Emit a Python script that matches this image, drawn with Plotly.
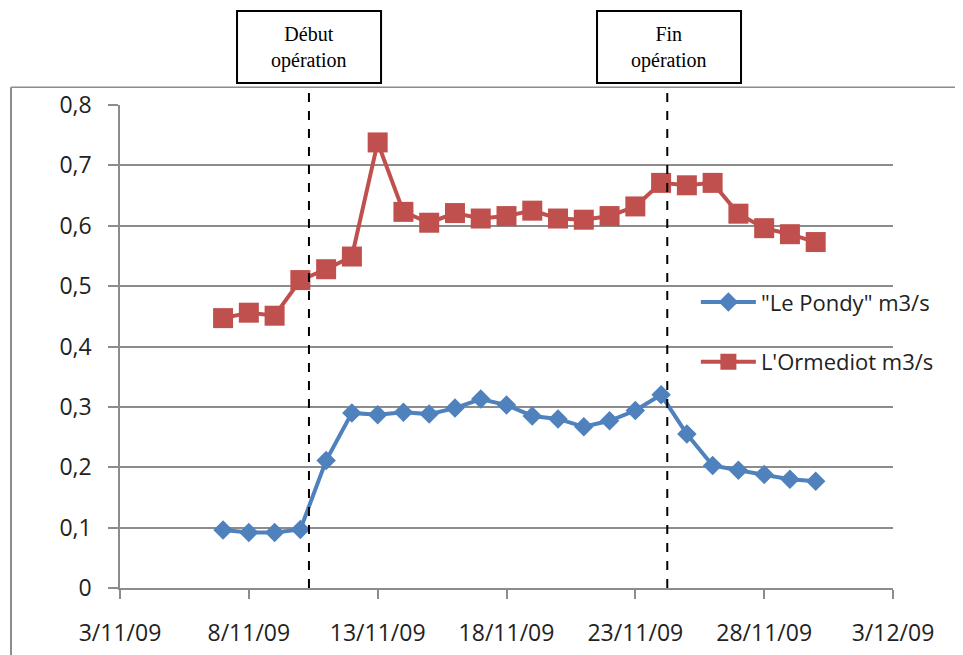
import plotly.graph_objects as go

dates = ["2009-11-%02d" % d for d in range(7, 31)]
pondy = [0.096, 0.092, 0.092, 0.097, 0.211, 0.290, 0.287, 0.291, 0.288, 0.298, 0.313, 0.303,
         0.285, 0.280, 0.267, 0.277, 0.294, 0.320, 0.255, 0.203, 0.195, 0.188, 0.180, 0.177]
ormediot = [0.447, 0.456, 0.451, 0.510, 0.528, 0.549, 0.738, 0.623, 0.605, 0.621, 0.612, 0.616,
            0.625, 0.612, 0.610, 0.616, 0.632, 0.671, 0.667, 0.671, 0.620, 0.596, 0.586, 0.573]
tick_dates = ["2009-11-03", "2009-11-08", "2009-11-13", "2009-11-18", "2009-11-23", "2009-11-28", "2009-12-03"]
tick_labels = ["3/11/09", "8/11/09", "13/11/09", "18/11/09", "23/11/09", "28/11/09", "3/12/09"]
y_ticks = [0, 0.1, 0.2, 0.3, 0.4, 0.5, 0.6, 0.7, 0.8]
events = ["2009-11-10 08:00", "2009-11-24 05:45"]
event_labels = ["Début<br>opération", "Fin<br>opération"]

fig = go.Figure()
fig.add_trace(go.Scatter(
    x=dates, y=pondy, name='"Le Pondy" m3/s', mode="lines+markers",
    line=dict(color="#4F81BD", width=4),
    marker=dict(symbol="diamond", size=15, color="#4F81BD"),
    legendgroup="a"))
fig.add_trace(go.Scatter(
    x=dates, y=ormediot, name="L'Ormediot m3/s", mode="lines+markers",
    line=dict(color="#C0504D", width=4),
    marker=dict(symbol="square", size=20, color="#C0504D"),
    legendgroup="b"))

grid = "#8c8c8c"
fig.update_layout(
    width=963, height=655,
    margin=dict(l=112, r=78, t=97, b=75, autoexpand=False),
    paper_bgcolor="white", plot_bgcolor="white",
    separators=", ",
    font=dict(family="Open Sans", size=17, color="#222"),
    showlegend=True,
    legend=dict(x=0.745, y=0.635, xanchor="left", yanchor="top",
                bgcolor="rgba(0,0,0,0)", traceorder="grouped", tracegroupgap=28,
                font=dict(family="Open Sans", size=22, color="#222"),
                itemwidth=55),
    xaxis=dict(type="date", range=["2009-11-03", "2009-12-03"],
               tickvals=tick_dates, ticktext=tick_labels,
               showgrid=False, showline=True, linecolor=grid, linewidth=1.5,
               ticks="outside", ticklen=9, tickcolor=grid, tickwidth=1.5,
               ticklabelstandoff=15,
               tickfont=dict(family="Open Sans", size=23, color="#222"),
               zeroline=False),
    yaxis=dict(range=[0, 0.8], tickvals=y_ticks,
               ticktext=[("%g" % v).replace(".", ",") for v in y_ticks],
               showgrid=True, gridcolor=grid, gridwidth=1.5,
               showline=True, linecolor=grid, linewidth=1.5,
               ticks="outside", ticklen=10, tickcolor=grid, tickwidth=1.5,
               ticklabelstandoff=12,
               tickfont=dict(family="Open Sans", size=23, color="#222"),
               zeroline=False),
)

# outer frame lines (left and top)
fig.add_shape(type="line", xref="paper", yref="paper", x0=-0.141, x1=-0.141, y0=-0.16, y1=1.037,
              line=dict(color="#8c8c8c", width=2))
fig.add_shape(type="line", xref="paper", yref="paper", x0=-0.141, x1=1.12, y0=1.037, y1=1.037,
              line=dict(color="#8c8c8c", width=1.5))

box_x = [(0.1514, 0.3377), (0.6171, 0.8034)]
for ev, lab, (bx0, bx1) in zip(events, event_labels, box_x):
    fig.add_shape(type="line", xref="x", yref="paper", x0=ev, x1=ev, y0=0, y1=1.035,
                  line=dict(color="black", width=2, dash="dash"))
    fig.add_shape(type="rect", xref="paper", yref="paper", x0=bx0, x1=bx1, y0=1.0455, y1=1.1946,
                  line=dict(color="black", width=2), fillcolor="white")
    fig.add_annotation(xref="paper", yref="paper", x=(bx0 + bx1) / 2, y=1.12,
                       xanchor="center", yanchor="middle",
                       text=lab, showarrow=False, align="center",
                       font=dict(family="Liberation Serif", size=20, color="black"))

fig.write_html("out.html")
